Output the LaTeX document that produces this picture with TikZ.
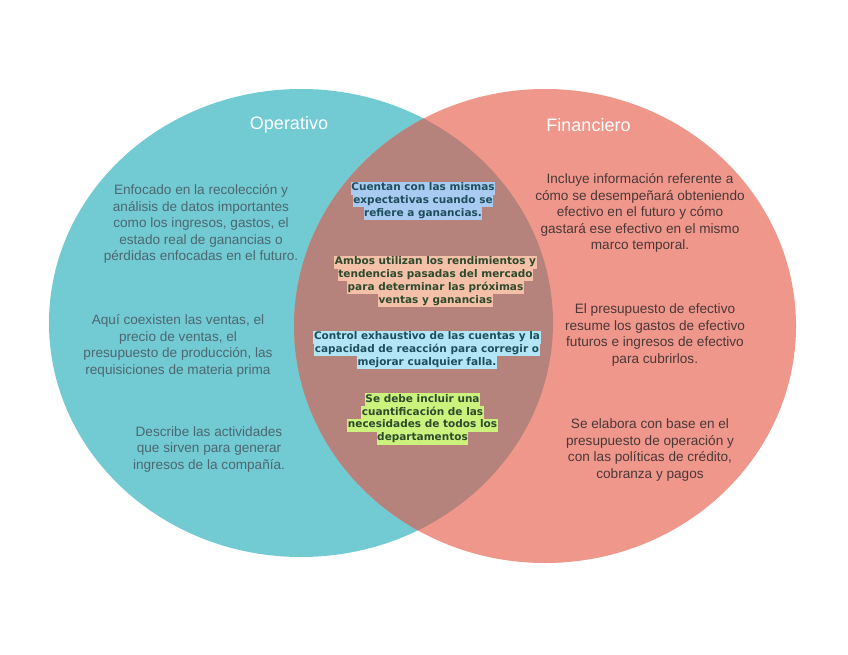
\documentclass[tikz,border=0pt]{standalone}
\usepackage{fontspec}
\setmainfont{Liberation Sans}
\newfontfamily\midfont{DejaVu Sans}
\usepackage{xcolor}
\definecolor{tealc}{HTML}{72CAD2}
\definecolor{salmonc}{HTML}{F0978B}
\definecolor{brownc}{HTML}{B5837B}
\definecolor{leftgray}{HTML}{4D6870}
\definecolor{rightdark}{HTML}{4A3838}
\definecolor{hlblue}{HTML}{A9CBF2}
\definecolor{hlpeach}{HTML}{F5C0A8}
\definecolor{hlcyan}{HTML}{B2E6F6}
\definecolor{hllime}{HTML}{CBF27C}
\definecolor{midteal}{HTML}{1E4E5C}
\definecolor{midgreen}{HTML}{2C4A2C}
\setlength{\fboxsep}{0pt}
\newcommand{\hlx}[2]{\colorbox{#1}{\strut\kern0.6pt #2\kern0.6pt}}
\begin{document}
\begin{tikzpicture}[x=1pt,y=-1pt,
  body/.style={font=\fontsize{13.6}{16.5}\selectfont, align=center, inner sep=0pt},
  ltext/.style={body, text=leftgray},
  rtext/.style={body, text=rightdark},
  title/.style={font=\fontsize{18}{20}\selectfont, text=white, inner sep=0pt},
  mid/.style={font=\midfont\bfseries\fontsize{10.5}{12.8}\selectfont, align=center, inner sep=0pt}]
\useasboundingbox (0,0) rectangle (848,655);
\fill[white] (0,0) rectangle (848,655);
% circles
\fill[tealc] (301,323) ellipse [x radius=252, y radius=234];
\fill[salmonc] (545,326) ellipse [x radius=251, y radius=237];
\begin{scope}
  \clip (301,323) ellipse [x radius=252, y radius=234];
  \fill[brownc] (545,326) ellipse [x radius=251, y radius=237];
\end{scope}
% titles
\node[title] (top) at (289,125) {Operativo};
\node[title] (tfin) at (588.5,125) {Financiero};
% left texts
\node[ltext] (l1) at (201,224) {Enfocado en la recolección y\\análisis de datos importantes\\como los ingresos, gastos, el\\estado real de ganancias o\\pérdidas enfocadas en el futuro.};
\node[ltext] (l2) at (178,346) {Aquí coexisten las ventas, el\\precio de ventas, el\\presupuesto de producción, las\\requisiciones de materia prima};
\node[ltext] (l3) at (209,449) {Describe las actividades\\que sirven para generar\\ingresos de la compañía.};
% right texts
\node[rtext] (r1) at (640,213) {Incluye información referente a\\cómo se desempeñará obteniendo\\efectivo en el futuro y cómo\\gastará ese efectivo en el mismo\\marco temporal.};
\node[rtext] (r2) at (655,335) {El presupuesto de efectivo\\resume los gastos de efectivo\\futuros e ingresos de efectivo\\para cubrirlos.};
\node[rtext] (r3) at (650,450) {Se elabora con base en el\\presupuesto de operación y\\con las políticas de crédito,\\cobranza y pagos};
% middle texts
\node[mid, text=midteal] (m1) at (423,201) {\hlx{hlblue}{Cuentan con las mismas}\\\hlx{hlblue}{expectativas cuando se}\\\hlx{hlblue}{refiere a ganancias.}};
\node[mid, text=midgreen] (m2) at (435.5,281.3) {\hlx{hlpeach}{Ambos utilizan los rendimientos y}\\\hlx{hlpeach}{tendencias pasadas del mercado}\\\hlx{hlpeach}{para determinar las próximas}\\\hlx{hlpeach}{ventas y ganancias}};
\node[mid, text=midteal] (m3) at (427,350) {\hlx{hlcyan}{Control exhaustivo de las cuentas y la}\\\hlx{hlcyan}{capacidad de reacción para corregir o}\\\hlx{hlcyan}{mejorar cualquier falla.}};
\node[mid, text=midgreen] (m4) at (422.5,419) {\hlx{hllime}{Se debe incluir una}\\\hlx{hllime}{cuantificación de las}\\\hlx{hllime}{necesidades de todos los}\\\hlx{hllime}{departamentos}};
\end{tikzpicture}
\end{document}
